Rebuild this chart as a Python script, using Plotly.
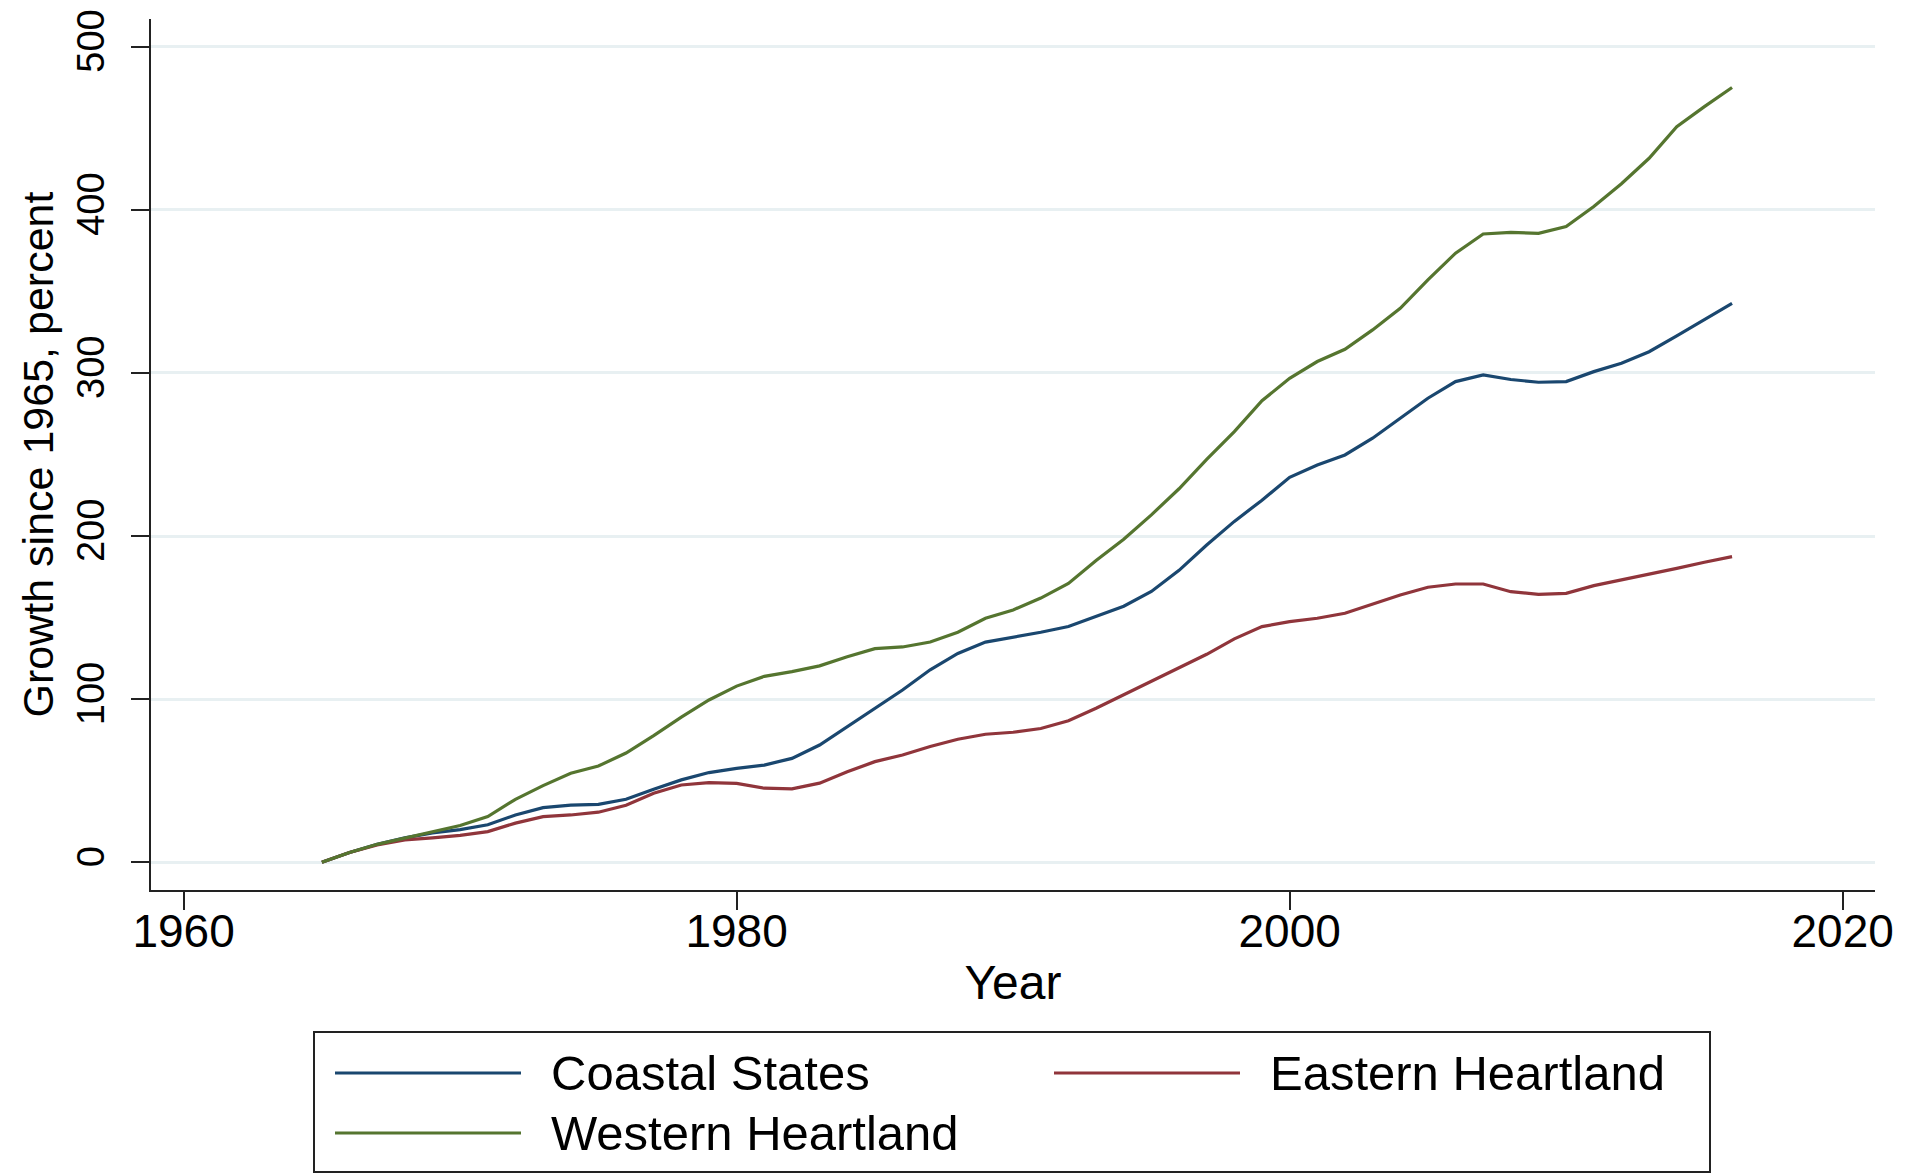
import plotly.graph_objects as go

# ---------------- data ----------------
years = list(range(1965, 2017))

coastal_states = [
    0, 6, 11, 15, 18, 20, 23, 29, 33.5, 35,
    35.5, 38.6, 44.8, 50.5, 55, 57.6, 59.6, 63.7, 71.9, 83,
    94.4, 105.6, 118, 128, 135, 138, 141, 144.5, 150.6, 157,
    166, 179, 194.5, 209, 222, 236, 243.5, 249.7, 260, 272,
    284.5, 294.7, 298.8, 296, 294.3, 294.7, 300.8, 306, 313, 322.7,
    332.5, 342.7,
]
eastern_heartland = [
    0, 6, 10.6, 13.7, 15, 16.5, 18.8, 24, 28, 29,
    30.7, 35, 42.3, 47.4, 48.8, 48.4, 45.4, 45, 48.5, 55.5,
    61.7, 65.8, 71, 75.4, 78.5, 79.7, 82, 86.8, 94.4, 102.6,
    110.7, 118.9, 127.5, 137, 144.5, 147.5, 149.6, 152.7, 158.4, 163.9,
    168.6, 170.6, 170.6, 165.9, 164.3, 164.9, 169.6, 173, 176.7, 180.2,
    183.9, 187.4,
]
western_heartland = [
    0, 6, 11, 15, 19, 22.5, 28, 38.6, 47, 54.6,
    59, 67, 77.7, 89, 99.5, 108, 114, 116.9, 120.4, 126,
    131, 132, 135, 141, 149.6, 154.7, 162, 171, 185, 198,
    213, 229, 247, 264, 283, 296.7, 307, 314.5, 326.4, 339.6,
    357, 373.4, 385.2, 386.2, 385.6, 389.7, 402, 416, 431.6, 451,
    463.3, 475,
]

series_names = ["Coastal States", "Eastern Heartland", "Western Heartland"]
series_values = [coastal_states, eastern_heartland, western_heartland]
series_colors = ["#1A476F", "#90353B", "#55752F"]

x_ticks = [1960, 1980, 2000, 2020]
y_ticks = [0, 100, 200, 300, 400, 500]

x_title = "Year"
y_title = "Growth since 1965, percent"

# ---------------- layout constants ----------------
OFF = 8                      # page body margin
W, H = 1900, 1166
ML, MR, MT, MB = 143, 33, 11, 284
FONT = "Liberation Sans, Arial, Helvetica, sans-serif"

fig = go.Figure()
for name, vals, col in zip(series_names, series_values, series_colors):
    fig.add_trace(go.Scatter(
        x=years, y=vals, mode="lines", name=name,
        line=dict(color=col, width=3.2), showlegend=False,
    ))

fig.update_layout(
    width=W, height=H,
    margin=dict(l=ML, r=MR, t=MT, b=MB, pad=0, autoexpand=False),
    paper_bgcolor="white", plot_bgcolor="white",
    font=dict(family=FONT, color="black", size=46),
    showlegend=False,
)

fig.update_xaxes(
    range=[1958.82, 2021.17], tickvals=x_ticks, ticktext=[str(v) for v in x_ticks],
    automargin=False,
    showline=True, linecolor="#222222", linewidth=2,
    ticks="outside", ticklen=18, tickwidth=2, tickcolor="#222222",
    showgrid=False, zeroline=False,
    tickfont=dict(size=46, family=FONT, color="black"),
    ticklabelstandoff=-18, ticklabeloverflow="allow",
    title=dict(text=x_title, font=dict(size=48, family=FONT, color="black"), standoff=9),
)
fig.update_yaxes(
    range=[-17, 517], tickvals=y_ticks, ticktext=[str(v) for v in y_ticks],
    automargin=False,
    tickangle=-90,
    showline=True, linecolor="#222222", linewidth=2,
    ticks="outside", ticklen=18, tickwidth=2, tickcolor="#222222",
    showgrid=True, gridcolor="#E8F0F2", gridwidth=3, zeroline=False,
    tickfont=dict(size=38, family=FONT, color="black"),
    ticklabelstandoff=12, ticklabeloverflow="allow",
    title=dict(text=y_title, font=dict(size=43, family=FONT, color="black"), standoff=3),
)

# ---------------- legend (drawn manually to match long sample lines) ----------------
PW = W - ML - MR
PH = H - MT - MB


def px_x(px):
    return (px - OFF - ML) / PW


def px_y(py):
    return (OFF + H - MB - py) / PH


box = dict(x0=314, x1=1710, y0=1032, y1=1172)
fig.add_shape(type="rect", xref="paper", yref="paper",
              x0=px_x(box["x0"]), x1=px_x(box["x1"]),
              y0=px_y(box["y1"]), y1=px_y(box["y0"]),
              line=dict(color="#222222", width=2), fillcolor="white", layer="above")

legend_slots = [(335, 1073), (1054, 1073), (335, 1133)]
for (lx, ly), name, col in zip(legend_slots, series_names, series_colors):
    fig.add_shape(type="line", xref="paper", yref="paper",
                  x0=px_x(lx), x1=px_x(lx + 186), y0=px_y(ly), y1=px_y(ly),
                  line=dict(color=col, width=3.2))
    fig.add_annotation(xref="paper", yref="paper", x=px_x(lx + 214), y=px_y(ly),
                       text=name, showarrow=False, xanchor="left", yanchor="middle",
                       font=dict(size=49, family=FONT, color="black"))

fig.write_html("out.html")
